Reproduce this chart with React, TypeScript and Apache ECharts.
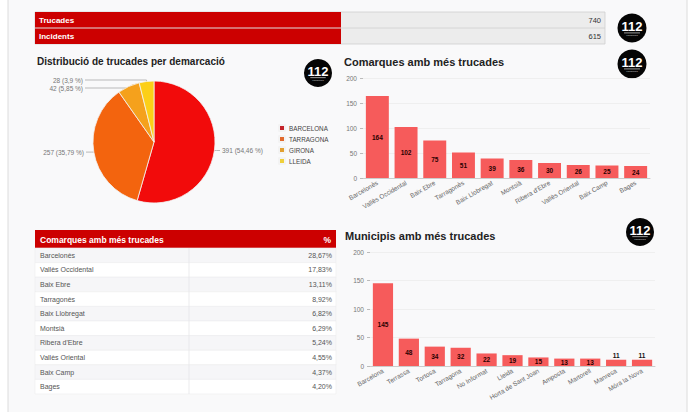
import React, { useEffect, useRef } from "react";
import * as echarts from "echarts";

const summaryLabels = ["Trucades", "Incidents"];
const summaryValues = [740, 615];

const pieTitle = "Distribució de trucades per demarcació";
const pieNames = ["BARCELONA", "TARRAGONA", "GIRONA", "LLEIDA"];
const pieValues = [391, 257, 42, 28];
const pieColors = ["#f20b0b", "#f3640e", "#f5a11c", "#fccf17"];
const legendColors = ["#c4232a", "#e2692c", "#e2a030", "#efd03a"];

const comarquesTitle = "Comarques amb més trucades";
const comarques = [
  "Barcelonès",
  "Vallès Occidental",
  "Baix Ebre",
  "Tarragonès",
  "Baix Llobregat",
  "Montsià",
  "Ribera d'Ebre",
  "Vallès Oriental",
  "Baix Camp",
  "Bages",
];
const comarquesCalls = [164, 102, 75, 51, 39, 36, 30, 26, 25, 24];
const comarquesPct = ["28,67%", "17,83%", "13,11%", "8,92%", "6,82%", "6,29%", "5,24%", "4,55%", "4,37%", "4,20%"];

const municipisTitle = "Municipis amb més trucades";
const municipis = [
  "Barcelona",
  "Terrassa",
  "Tortosa",
  "Tarragona",
  "No Informat",
  "Lleida",
  "Horta de Sant Joan",
  "Amposta",
  "Martorell",
  "Manresa",
  "Móra la Nova",
];
const municipisCalls = [145, 48, 34, 32, 22, 19, 15, 13, 13, 11, 11];

const yMax = 200;
const yInterval = 50;

const FONT = "Liberation Sans, Arial, sans-serif";
const RED = "#cc0000";
const BAR = "#f65b5b";

const PIE_CX = 154;
const PIE_CY = 142;
const PIE_R = 61;

function logo(cx: number, cy: number, r: number) {
  return {
    type: "group",
    x: cx,
    y: cy,
    children: [
      { type: "circle", shape: { cx: 0, cy: 0, r }, style: { fill: "#050505" } },
      {
        type: "text",
        style: {
          text: "112",
          x: 0,
          y: -2,
          fill: "#fff",
          font: `bold ${Math.round(r * 0.9)}px ${FONT}`,
          textAlign: "center",
          textVerticalAlign: "middle",
        },
      },
      { type: "rect", shape: { x: -r * 0.55, y: r * 0.32, width: r * 1.1, height: 0.6 }, style: { fill: "#fff" } },
      {
        type: "text",
        style: {
          text: "emergències",
          x: 0,
          y: r * 0.5,
          fill: "#ddd",
          font: `2px ${FONT}`,
          textAlign: "center",
          textVerticalAlign: "middle",
        },
      },
    ],
  };
}

function txt(text: string, x: number, y: number, font: string, fill: string, align = "left") {
  return {
    type: "text",
    style: { text, x, y, font, fill, textAlign: align, textVerticalAlign: "middle" },
  };
}

export default function App() {
  const ref = useRef<HTMLDivElement>(null);

  useEffect(() => {
    if (!ref.current) return;
    const chart = echarts.init(ref.current, undefined, { renderer: "svg" });

    const total = pieValues.reduce((a, b) => a + b, 0);
    const anchors: number[][] = [];
    let acc = 0;
    pieValues.forEach((v) => {
      const mid = (acc + v / 2) / total;
      acc += v;
      const th = Math.PI / 2 - mid * Math.PI * 2;
      anchors.push([PIE_CX + PIE_R * Math.cos(th), PIE_CY - PIE_R * Math.sin(th)]);
    });

    const graphics: any[] = [];
    graphics.push({
      type: "rect",
      z: -10,
      shape: { x: 8, y: -2, width: 679, height: 420 },
      style: { fill: "#f9f9fa", stroke: "#dcdcdc", lineWidth: 1 },
    });

    graphics.push({
      type: "rect",
      shape: { x: 35, y: 12, width: 570, height: 32 },
      style: { fill: "#ececec", stroke: "#cfcfcf", lineWidth: 0.8 },
    });
    graphics.push({ type: "line", shape: { x1: 35, y1: 28, x2: 605, y2: 28 }, style: { stroke: "#d0d0d0", lineWidth: 0.8 } });
    summaryLabels.forEach((lab, i) => {
      const y0 = 12 + i * 16;
      graphics.push({
        type: "rect",
        shape: { x: 35, y: y0 + (i === 0 ? 0 : 0.5), width: 306, height: 15.5 },
        style: { fill: RED },
      });
      graphics.push(txt(lab, 39, y0 + 8, `bold 8px ${FONT}`, "#fff"));
      graphics.push(txt(String(summaryValues[i]), 601, y0 + 8, `7.5px ${FONT}`, "#333", "right"));
    });

    graphics.push(txt(pieTitle, 37, 61, `bold 10px ${FONT}`, "#222"));
    graphics.push(txt(comarquesTitle, 344, 62, `bold 11px ${FONT}`, "#222"));
    graphics.push(txt(municipisTitle, 345, 236, `bold 11px ${FONT}`, "#222"));

    const tX = 35;
    const tW = 301;
    const headY = 230;
    const headH = 18;
    const rowH = 14.6;
    graphics.push({
      type: "rect",
      shape: { x: tX, y: headY, width: tW, height: headH },
      style: { fill: RED },
    });
    graphics.push(txt(comarquesTitle, tX + 5, headY + 9.5, `bold 8.5px ${FONT}`, "#fff"));
    graphics.push(txt("%", tX + tW - 5, headY + 9.5, `bold 8.5px ${FONT}`, "#fff", "right"));
    comarques.forEach((name, i) => {
      const y0 = headY + headH + i * rowH;
      graphics.push({
        type: "rect",
        shape: { x: tX, y: y0, width: tW, height: rowH },
        style: { fill: i % 2 === 0 ? "#f6f6f8" : "#ffffff", stroke: "#ececee", lineWidth: 0.6 },
      });
      graphics.push(txt(name, tX + 5, y0 + rowH / 2, `7px ${FONT}`, "#555"));
      graphics.push(txt(comarquesPct[i], tX + tW - 4, y0 + rowH / 2, `7px ${FONT}`, "#555", "right"));
    });
    graphics.push({
      type: "line",
      shape: { x1: 189, y1: headY + headH, x2: 189, y2: headY + headH + rowH * comarques.length },
      style: { stroke: "#e6e6e8", lineWidth: 0.8 },
    });

    graphics.push(logo(632, 28, 14.5));
    graphics.push(logo(632, 64, 14.5));
    graphics.push(logo(318, 73, 14));
    graphics.push(logo(640, 232, 14));

    const barAxisLabel = { fontSize: 6.5, color: "#777", fontFamily: FONT };

    const option: any = {
      animation: false,
      backgroundColor: "#ffffff",
      textStyle: { fontFamily: FONT },
      graphic: graphics,
      legend: {
        orient: "vertical",
        left: 273,
        top: 119,
        padding: 5,
        itemWidth: 6,
        itemHeight: 6,
        itemGap: 3,
        icon: "rect",
        textStyle: { fontSize: 6.3, color: "#444", fontFamily: FONT, padding: [0, 0, 0, -1] },
        data: pieNames.map((n, i) => ({ name: n, itemStyle: { color: legendColors[i] } })),
      },
      grid: [
        { left: 363, top: 78, width: 287, height: 100 },
        { left: 370, top: 252, width: 285, height: 114 },
      ],
      xAxis: [
        {
          type: "category",
          gridIndex: 0,
          data: comarques,
          axisLine: { lineStyle: { color: "#ccc" } },
          axisTick: { show: false },
          axisLabel: { ...barAxisLabel, color: "#666", rotate: 30, interval: 0, margin: 4 },
        },
        {
          type: "category",
          gridIndex: 1,
          data: municipis,
          axisLine: { lineStyle: { color: "#ccc" } },
          axisTick: { show: false },
          axisLabel: { ...barAxisLabel, color: "#666", rotate: 30, interval: 0, margin: 4 },
        },
      ],
      yAxis: [0, 1].map((g) => ({
        type: "value",
        gridIndex: g,
        min: 0,
        max: yMax,
        interval: yInterval,
        axisLine: { show: false },
        axisTick: { show: true, length: 3, lineStyle: { color: "#bbb" } },
        axisLabel: { ...barAxisLabel, margin: 6 },
        splitLine: { lineStyle: { color: "#ececec", width: 0.8 } },
      })),
      series: [
        {
          type: "pie",
          center: [PIE_CX, PIE_CY],
          radius: PIE_R,
          startAngle: 90,
          clockwise: true,
          data: pieNames.map((n, i) => ({ name: n, value: pieValues[i], itemStyle: { color: pieColors[i] } })),
          itemStyle: { borderColor: "#f3f3f3", borderWidth: 0.8 },
          label: {
            show: true,
            position: "outside",
            fontSize: 6.5,
            color: "#777",
            fontFamily: FONT,
            formatter: (p: any) => `${p.value} (${String(p.percent).replace(".", ",")} %)`,
          },
          labelLine: { show: true, length: 4, length2: 4, lineStyle: { color: "#aaa", width: 0.8 } },
          labelLayout: (p: any) => {
            const i = p.dataIndex;
            const a = anchors[i];
            if (i === 0) {
              const y = a[1];
              return { x: 222, y, align: "left", verticalAlign: "middle", labelLinePoints: [a, [a[0] + 2, y], [220, y]] };
            }
            if (i === 1) {
              const y = a[1];
              return { x: 84, y, align: "right", verticalAlign: "middle", labelLinePoints: [a, [a[0] - 2, y], [86, y]] };
            }
            const y = i === 2 ? 88 : 80;
            return {
              x: 83,
              y,
              align: "right",
              verticalAlign: "middle",
              labelLinePoints: [a, [a[0], y], [85, y]],
            };
          },
        },
        {
          type: "bar",
          xAxisIndex: 0,
          yAxisIndex: 0,
          data: comarquesCalls,
          barCategoryGap: "20%",
          itemStyle: { color: BAR },
          label: {
            show: true,
            position: "inside",
            fontSize: 6.5,
            fontWeight: "bold",
            color: "#2a0000",
            fontFamily: FONT,
          },
        },
        {
          type: "bar",
          xAxisIndex: 1,
          yAxisIndex: 1,
          data: municipisCalls.map((v) =>
            v < 12 ? { value: v, label: { position: "top", distance: 1, color: "#111" } } : v
          ),
          barCategoryGap: "22%",
          itemStyle: { color: BAR },
          label: {
            show: true,
            position: "inside",
            fontSize: 6.5,
            fontWeight: "bold",
            color: "#2a0000",
            fontFamily: FONT,
          },
        },
      ],
    };

    chart.setOption(option);
    return () => chart.dispose();
  }, []);

  return (
    <div
      ref={ref}
      style={{ position: "fixed", left: 0, top: 0, width: 690, height: 412, background: "#fff" }}
    />
  );
}
